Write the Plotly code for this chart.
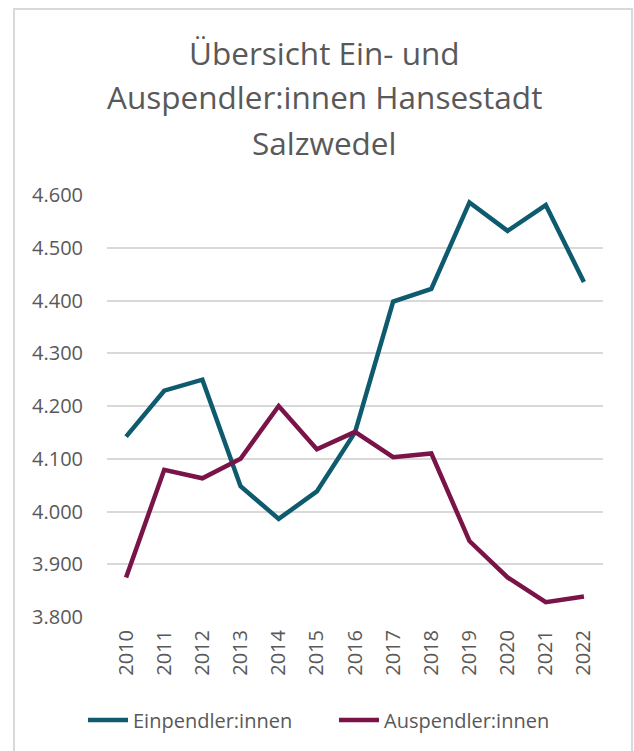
import plotly.graph_objects as go

years = ["2010", "2011", "2012", "2013", "2014", "2015", "2016",
         "2017", "2018", "2019", "2020", "2021", "2022"]
einpendler = [4142, 4229, 4250, 4048, 3986, 4038, 4150,
              4398, 4422, 4586, 4532, 4581, 4435]
auspendler = [3875, 4079, 4063, 4100, 4200, 4118, 4151,
              4103, 4110, 3944, 3875, 3828, 3839]
y_ticks = [3800, 3900, 4000, 4100, 4200, 4300, 4400, 4500, 4600]
y_tick_labels = ["3.800", "3.900", "4.000", "4.100", "4.200", "4.300", "4.400", "4.500", "4.600"]
title_lines = ["Übersicht Ein- und", "Auspendler:innen Hansestadt", "Salzwedel"]

W, H = 634, 751
L, R, T, B = 107, 603, 195, 617
FONT = "Open Sans"
GRAY = "#595959"


def px_x(p):
    return (p - L) / (R - L)


def px_y(p):
    return (B - p) / (B - T)


fig = go.Figure()
fig.add_trace(go.Scatter(x=years, y=einpendler, mode="lines", name="Einpendler:innen",
                         line=dict(color="#0E5A6F", width=4.5), legend="legend"))
fig.add_trace(go.Scatter(x=years, y=auspendler, mode="lines", name="Auspendler:innen",
                         line=dict(color="#7A1348", width=4.5), legend="legend2"))

annotations = []
for line, base in zip(title_lines, [62, 107, 152]):
    annotations.append(dict(text=line, x=px_x(324), y=px_y(base - 10), xref="paper", yref="paper",
                            xanchor="center", yanchor="middle", showarrow=False,
                            font=dict(family=FONT, size=31.5, color=GRAY)))

legend_common = dict(orientation="h", y=px_y(720), yanchor="middle", xanchor="left",
                     font=dict(family=FONT, size=20, color=GRAY), itemwidth=40,
                     bgcolor="rgba(0,0,0,0)")

fig.update_layout(
    width=W, height=H,
    margin=dict(l=L, r=W - R, t=T, b=H - B, autoexpand=False),
    paper_bgcolor="white", plot_bgcolor="white",
    showlegend=True,
    legend=dict(x=px_x(83), **legend_common),
    legend2=dict(x=px_x(334), **legend_common),
    annotations=annotations,
    shapes=[dict(type="rect", xref="paper", yref="paper",
                 x0=px_x(14), x1=px_x(632), y0=px_y(760), y1=px_y(9),
                 line=dict(color="#D9D9D9", width=2), fillcolor="rgba(0,0,0,0)", layer="below")],
    xaxis=dict(type="category", range=[-0.5, 12.5], showgrid=False, zeroline=False,
               showline=False, ticks="", tickangle=-90, automargin=False,
               tickfont=dict(family=FONT, size=20, color=GRAY), ticklabelstandoff=8),
    yaxis=dict(range=[3800, 4600], tickvals=y_ticks, ticktext=y_tick_labels,
               showgrid=True, gridcolor="#D9D9D9", gridwidth=1.5, zeroline=False,
               showline=False, ticks="", automargin=False,
               tickfont=dict(family=FONT, size=20, color=GRAY), ticklabelstandoff=23),
)

fig.write_html("out.html", config={"displayModeBar": False},
               post_script="document.body.style.margin='0';document.body.style.overflow='hidden';")
